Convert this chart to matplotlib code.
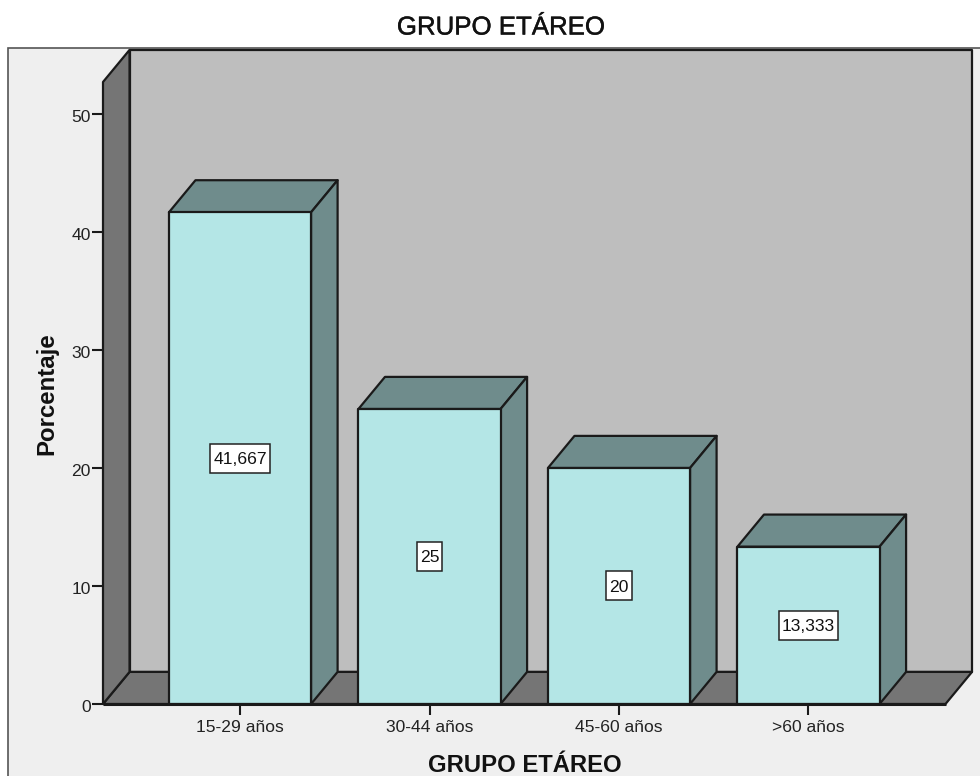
#!/usr/bin/python3
import matplotlib
matplotlib.use('Agg')
import matplotlib.pyplot as plt
import matplotlib.patheffects as pe
from matplotlib.patches import Rectangle, Polygon
from matplotlib.transforms import IdentityTransform, ScaledTranslation

plt.rcParams['font.family'] = ['Liberation Sans', 'DejaVu Sans']

# Data
categories = ['15-29 años', '30-44 años', '45-60 años', '>60 años']
percentages = [41.667, 25, 20, 13.333]
value_labels = ['41,667', '25', '20', '13,333']
y_ticks = [0, 10, 20, 30, 40, 50]

W, H = 980, 776
fig = plt.figure(figsize=(W / 100, H / 100), dpi=100, facecolor='white')

# Grey chart panel, runs off the right and bottom of the image
fig.add_artist(Rectangle((8 / W, -0.1), 1.0, 1.1 - 47.5 / H, transform=fig.transFigure,
                         facecolor='#efefef', edgecolor='#555555', linewidth=1.2, zorder=-1))

ax = fig.add_axes([103 / W, 1 - 704 / H, (945.5 - 103) / W, (704 - 82) / H])
ax.patch.set_visible(False)
ax.set_xlim(-0.723, 3.723)
ax.set_ylim(0, 52.71)
for s in ax.spines.values():
    s.set_visible(False)

# depth of the 3D box in data units
dx = 0.14
dy = 2.72
x0, x1 = ax.get_xlim()
y0, y1 = ax.get_ylim()
line = '#1a1a1a'
lw = 1.6

def face(pts, color, z):
    ax.add_patch(Polygon(pts, closed=True, facecolor=color, edgecolor=line,
                         linewidth=lw, joinstyle='round', clip_on=False, zorder=z))

# walls and floor
face([(x0 + dx, y0 + dy), (x1 + dx, y0 + dy), (x1 + dx, y1 + dy), (x0 + dx, y1 + dy)], '#bebebe', 1)
face([(x0, y0), (x1, y0), (x1 + dx, y0 + dy), (x0 + dx, y0 + dy)], '#757575', 2)
face([(x0, y0), (x0 + dx, y0 + dy), (x0 + dx, y1 + dy), (x0, y1)], '#757575', 2)

# bars
w = 0.375
renderer = fig.canvas.get_renderer()
for i, v in enumerate(percentages):
    face([(i - w, v), (i + w, v), (i + w + dx, v + dy), (i - w + dx, v + dy)], '#6f8c8c', 3)
    face([(i + w, 0), (i + w + dx, dy), (i + w + dx, v + dy), (i + w, v)], '#6f8c8c', 3)
    face([(i - w, 0), (i + w, 0), (i + w, v), (i - w, v)], '#b4e6e6', 4)
    t = ax.text(i, v / 2, value_labels[i], ha='center', va='center', fontsize=12.6,
                color='#111111', zorder=7)
    t.set_transform(t.get_transform() + ScaledTranslation(0, -1.5 / 100, fig.dpi_scale_trans))
    # white label box, wider padding top and bottom than at the sides
    bb = t.get_window_extent(renderer)
    cy = ax.transData.transform((i, v / 2))[1]
    ax.add_patch(Rectangle((bb.x0 - 3, cy - 14.5), bb.width + 6, 29, transform=IdentityTransform(),
                           facecolor='white', edgecolor='#222222', linewidth=1.1, zorder=6))

ax.plot([x0, x1], [0, 0], color=line, lw=2.2, zorder=5, clip_on=False, solid_capstyle='butt')

ax.set_xticks(range(len(categories)))
ax.set_xticklabels(categories, fontsize=12.6, color='#222222')
ax.set_yticks(y_ticks)
ax.tick_params(axis='x', length=8, width=1.5, color=line, pad=3.5)
ax.tick_params(axis='y', length=8, width=1.5, color=line, pad=1, labelsize=12.6, labelcolor='#222222')

# y labels sit a little under their ticks
for lab in ax.get_yticklabels():
    lab.set_transform(lab.get_transform() + ScaledTranslation(0, -2 / 100, fig.dpi_scale_trans))

title = fig.text(501 / W, 1 - 34.5 / H, 'GRUPO ETÁREO', ha='center', va='baseline', fontsize=18.6,
                 color='#111111')
title.set_path_effects([pe.withStroke(linewidth=0.3, foreground='#111111')])
fig.text(525 / W, 1 - 771.5 / H, 'GRUPO ETÁREO', ha='center', va='baseline', fontsize=17.2,
         fontweight='bold', color='#111111')
fig.text(53 / W, 1 - 394 / H, 'Porcentaje', ha='center', va='baseline', rotation=90,
         rotation_mode='anchor', fontsize=17.3, fontweight='bold', color='#111111')

fig.savefig('out.png', dpi=100, facecolor='white')
